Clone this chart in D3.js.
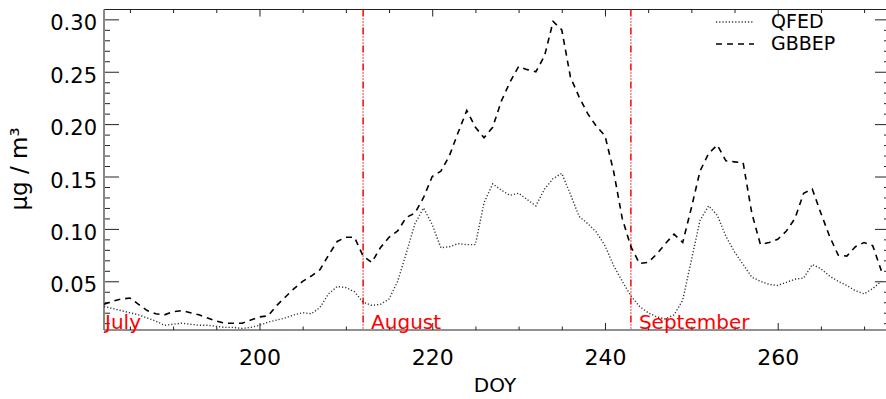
<!DOCTYPE html>
<html>
<head>
<meta charset="utf-8">
<script src="https://cdn.jsdelivr.net/npm/d3@7/dist/d3.min.js"></script>
<style>
  body { margin: 0; background: #fff; }
  svg { display: block; font-family: "DejaVu Sans", sans-serif; }
</style>
</head>
<body>
<svg id="chart" width="886" height="399"></svg>
<script>
const days = [182, 183, 184, 185, 186, 187, 188, 189, 190, 191, 192, 193, 194, 195, 196, 197, 198, 199,
  200, 201, 202, 203, 204, 205, 206, 207, 208, 209, 210, 211, 212, 213, 214, 215, 216, 217, 218, 219,
  220, 221, 222, 223, 224, 225, 226, 227, 228, 229, 230, 231, 232, 233, 234, 235, 236, 237, 238, 239,
  240, 241, 242, 243, 244, 245, 246, 247, 248, 249, 250, 251, 252, 253, 254, 255, 256, 257, 258, 259,
  260, 261, 262, 263, 264, 265, 266, 267, 268, 269, 270, 271, 272];

const qfed = [0.026, 0.024, 0.022, 0.020, 0.018, 0.015, 0.012, 0.008, 0.009, 0.010, 0.009, 0.008, 0.008, 0.007,
  0.006, 0.006, 0.005, 0.006, 0.008, 0.011, 0.013, 0.015, 0.018, 0.020, 0.019, 0.025, 0.038, 0.045, 0.044,
  0.040, 0.030, 0.027, 0.028, 0.033, 0.050, 0.077, 0.105, 0.120, 0.104, 0.082, 0.083, 0.086, 0.085, 0.085,
  0.125, 0.143, 0.137, 0.132, 0.134, 0.128, 0.122, 0.138, 0.148, 0.153, 0.133, 0.112, 0.105, 0.097, 0.084,
  0.065, 0.050, 0.036, 0.026, 0.020, 0.016, 0.014, 0.018, 0.032, 0.070, 0.108, 0.122, 0.113, 0.093, 0.078,
  0.066, 0.054, 0.050, 0.047, 0.046, 0.049, 0.052, 0.053, 0.066, 0.062, 0.055, 0.050, 0.046, 0.041, 0.038,
  0.043, 0.050];

const gbbep = [0.028, 0.031, 0.033, 0.034, 0.028, 0.022, 0.019, 0.018, 0.021, 0.022, 0.020, 0.018, 0.015, 0.012,
  0.010, 0.010, 0.010, 0.013, 0.016, 0.017, 0.027, 0.035, 0.043, 0.050, 0.055, 0.061, 0.075, 0.088, 0.092,
  0.092, 0.074, 0.068, 0.082, 0.092, 0.098, 0.111, 0.115, 0.130, 0.150, 0.155, 0.170, 0.192, 0.213, 0.197,
  0.187, 0.197, 0.222, 0.240, 0.255, 0.252, 0.250, 0.265, 0.298, 0.290, 0.245, 0.226, 0.210, 0.198, 0.189,
  0.155, 0.110, 0.083, 0.067, 0.068, 0.076, 0.086, 0.095, 0.087, 0.120, 0.155, 0.172, 0.180, 0.165, 0.164,
  0.163, 0.115, 0.085, 0.087, 0.090, 0.098, 0.110, 0.134, 0.138, 0.115, 0.093, 0.075, 0.074, 0.083, 0.087,
  0.084, 0.060];

const xMajor = [200, 220, 240, 260];
const xMinor = [185, 190, 195, 205, 210, 215, 225, 230, 235, 245, 250, 255, 265, 270];
const yMajor = [0.05, 0.10, 0.15, 0.20, 0.25, 0.30];
const yMinor = [0.01, 0.02, 0.03, 0.04, 0.06, 0.07, 0.08, 0.09, 0.11, 0.12, 0.13, 0.14, 0.16, 0.17,
  0.18, 0.19, 0.21, 0.22, 0.23, 0.24, 0.26, 0.27, 0.28, 0.29];

const monthDays = [212, 243];
const monthNames = ["July", "August", "September"];

const svg = d3.select("#chart");

const margin = { left: 104, right: 890, top: 9.5, bottom: 330 };

const x = d3.scaleLinear().domain([182, 273]).range([margin.left, margin.right]);
const y = d3.scaleLinear().domain([0.0035, 0.3094]).range([margin.bottom, margin.top]);

// minor ticks first
svg.append("g")
  .attr("transform", `translate(0,${margin.bottom})`)
  .call(d3.axisBottom(x).tickValues(xMinor).tickSize(-3.5).tickFormat(""))
  .call((g) => g.select(".domain").remove());
svg.append("g")
  .attr("transform", `translate(0,${margin.top})`)
  .call(d3.axisTop(x).tickValues(xMinor).tickSize(-3.5).tickFormat(""))
  .call((g) => g.select(".domain").remove());
svg.append("g")
  .attr("transform", `translate(${margin.left},0)`)
  .call(d3.axisLeft(y).tickValues(yMinor).tickSize(-6).tickFormat(""))
  .call((g) => g.select(".domain").remove());
svg.append("g")
  .attr("transform", `translate(${margin.right},0)`)
  .call(d3.axisRight(y).tickValues(yMinor).tickSize(-6).tickFormat(""))
  .call((g) => g.select(".domain").remove());

// major ticks + labels
const xAxis = svg.append("g")
  .attr("transform", `translate(0,${margin.bottom})`)
  .call(d3.axisBottom(x).tickValues(xMajor).tickSize(-7).tickPadding(0).tickFormat(d3.format("d")));
xAxis.select(".domain").remove();
xAxis.selectAll("text")
  .attr("y", 35).attr("dy", 0)
  .attr("font-size", 22).attr("font-family", "DejaVu Sans").attr("fill", "#000");

svg.append("g")
  .attr("transform", `translate(0,${margin.top})`)
  .call(d3.axisTop(x).tickValues(xMajor).tickSize(-7).tickFormat(""))
  .call((g) => g.select(".domain").remove());

const yAxis = svg.append("g")
  .attr("transform", `translate(${margin.left},0)`)
  .call(d3.axisLeft(y).tickValues(yMajor).tickSize(-15).tickPadding(7).tickFormat(d3.format(".2f")));
yAxis.select(".domain").remove();
yAxis.selectAll("text")
  .attr("dy", 0).attr("y", 10.5)
  .attr("font-size", 21).attr("font-family", "DejaVu Sans").attr("fill", "#000");

svg.append("g")
  .attr("transform", `translate(${margin.right},0)`)
  .call(d3.axisRight(y).tickValues(yMajor).tickSize(-15).tickFormat(""))
  .call((g) => g.select(".domain").remove());

svg.selectAll(".tick line").attr("stroke", "#222");

// frame
svg.append("line").attr("x1", margin.left).attr("x2", margin.right).attr("y1", margin.top).attr("y2", margin.top)
  .attr("stroke", "#222").attr("stroke-width", 1.2);
svg.append("line").attr("x1", margin.left).attr("x2", margin.right).attr("y1", margin.bottom).attr("y2", margin.bottom)
  .attr("stroke", "#222").attr("stroke-width", 1.2);
svg.append("line").attr("x1", margin.left).attr("x2", margin.left).attr("y1", margin.top).attr("y2", margin.bottom)
  .attr("stroke", "#888").attr("stroke-width", 2);
svg.append("line").attr("x1", margin.right).attr("x2", margin.right).attr("y1", margin.top).attr("y2", margin.bottom)
  .attr("stroke", "#222").attr("stroke-width", 1.2);

// month separators
svg.selectAll(".month-line")
  .data(monthDays)
  .join("line")
  .attr("class", "month-line")
  .attr("x1", (d) => x(d)).attr("x2", (d) => x(d))
  .attr("y1", margin.top).attr("y2", margin.bottom)
  .attr("stroke", "#ff0000")
  .attr("stroke-width", 1.5)
  .attr("stroke-dasharray", "7,2,1,2,1,2,1,2");

svg.selectAll(".month-label")
  .data(monthNames)
  .join("text")
  .attr("class", "month-label")
  .attr("x", (d, i) => (i === 0 ? x(days[0]) + 1 : x(monthDays[i - 1]) + 8))
  .attr("y", margin.bottom - 1)
  .attr("font-size", 20)
  .attr("fill", "#ff0000")
  .text((d) => d);

// series
const line = (vals) => d3.line()
  .x((d, i) => x(days[i]))
  .y((d) => y(d))(vals);

svg.append("path")
  .attr("d", line(qfed))
  .attr("fill", "none")
  .attr("stroke", "#333")
  .attr("stroke-width", 1.4)
  .attr("stroke-dasharray", "1.2,2");

svg.append("path")
  .attr("d", line(gbbep))
  .attr("fill", "none")
  .attr("stroke", "#000")
  .attr("stroke-width", 1.6)
  .attr("stroke-dasharray", "6,5");

// legend
const legend = svg.selectAll(".legend")
  .data([
    { name: "QFED", dash: "1.2,2", color: "#333", w: 1.4 },
    { name: "GBBEP", dash: "6,5", color: "#000", w: 1.6 },
  ])
  .join("g")
  .attr("class", "legend")
  .attr("transform", (_, i) => `translate(716,${22 + i * 22})`);

legend.append("line")
  .attr("x1", 0).attr("x2", 38)
  .attr("stroke", (d) => d.color)
  .attr("stroke-width", (d) => d.w)
  .attr("stroke-dasharray", (d) => d.dash);

legend.append("text")
  .attr("x", 55).attr("y", 6)
  .attr("font-size", 19)
  .text((d) => d.name);

// axis titles
svg.append("text")
  .attr("x", 495).attr("y", 391.5)
  .attr("text-anchor", "middle")
  .attr("font-size", 20)
  .text("DOY");

svg.append("text")
  .attr("transform", "translate(27,169) rotate(-90)")
  .attr("text-anchor", "middle")
  .attr("font-size", 23)
  .text("μg / m³");
</script>
</body>
</html>
